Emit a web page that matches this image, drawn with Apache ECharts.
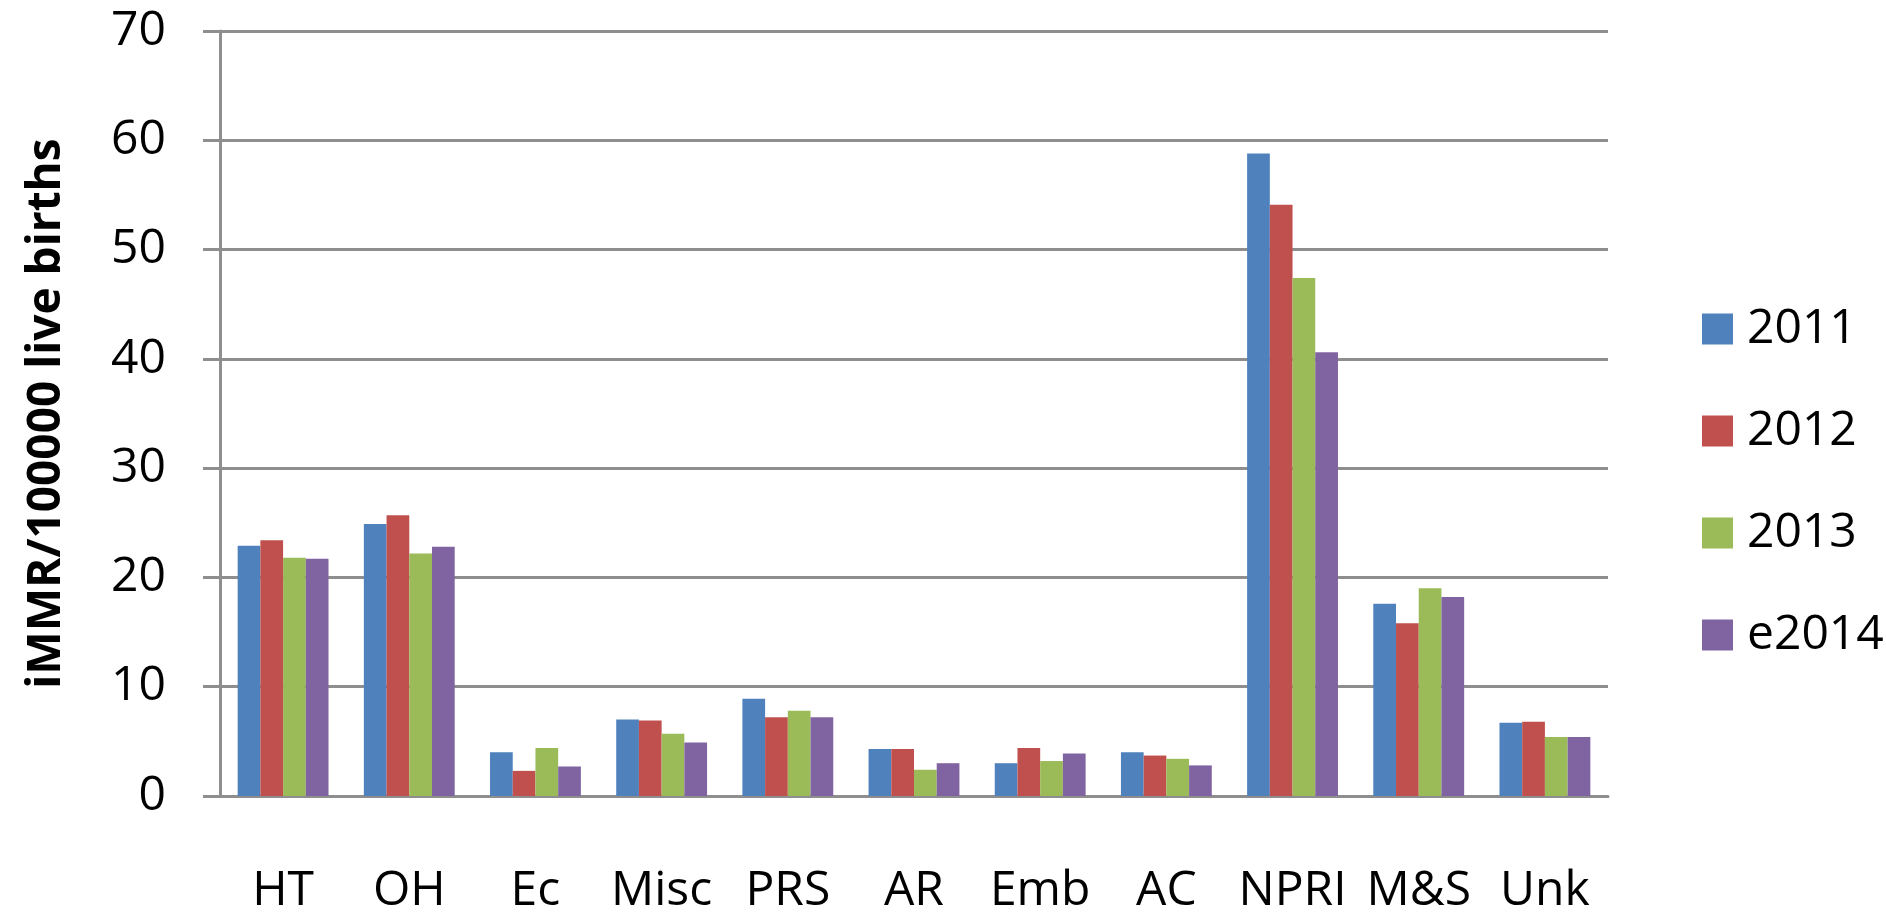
<!DOCTYPE html>
<html>
<head>
<meta charset="utf-8">
<script src="https://cdn.jsdelivr.net/npm/echarts@6/dist/echarts.min.js"></script>
<style>
  html, body { margin: 0; padding: 0; background: #fff; }
  #chart { width: 1886px; height: 915px; }
</style>
</head>
<body>
<div id="chart"></div>
<script>
// Causes of maternal death, rate per 100000 live births
const categories = ['HT', 'OH', 'Ec', 'Misc', 'PRS', 'AR', 'Emb', 'AC', 'NPRI', 'M&S', 'Unk'];
const seriesNames = ['2011', '2012', '2013', 'e2014'];
const values2011 = [22.9, 24.9, 4.0, 7.0, 8.9, 4.3, 3.0, 4.0, 58.8, 17.6, 6.7];
const values2012 = [23.4, 25.7, 2.3, 6.9, 7.2, 4.3, 4.4, 3.7, 54.1, 15.8, 6.8];
const values2013 = [21.8, 22.2, 4.4, 5.7, 7.8, 2.4, 3.2, 3.4, 47.4, 19.0, 5.4];
const valuesE2014 = [21.7, 22.8, 2.7, 4.9, 7.2, 3.0, 3.9, 2.8, 40.6, 18.2, 5.4];
const yTicks = [0, 10, 20, 30, 40, 50, 60, 70];

const colors = ['#4F81BD', '#C0504D', '#9BBB59', '#8064A2'];
const allValues = [values2011, values2012, values2013, valuesE2014];
const font = '"Open Sans", "DejaVu Sans", sans-serif';
const gridColor = '#8e8e8e';

const chart = echarts.init(document.getElementById('chart'), null, { renderer: 'canvas' });

chart.setOption({
  animation: false,
  color: colors,
  grid: { left: 220, right: 278, top: 31, bottom: 113, containLabel: false },
  legend: {
    orient: 'vertical',
    left: 1697,
    top: 300,
    itemWidth: 31,
    itemHeight: 31,
    itemGap: 54,
    icon: 'rect',
    textStyle: { fontFamily: font, fontSize: 48, color: '#000', padding: [14, 0, 0, 9] },
    data: seriesNames
  },
  xAxis: {
    type: 'category',
    data: categories,
    axisLine: { show: true, lineStyle: { color: gridColor, width: 3 } },
    axisTick: { show: false },
    axisLabel: { fontFamily: font, fontSize: 48, color: '#000', margin: 71, interval: 0 }
  },
  yAxis: {
    type: 'value',
    min: yTicks[0],
    max: yTicks[yTicks.length - 1],
    interval: 10,
    name: 'iMMR/100000 live births',
    nameLocation: 'middle',
    nameGap: 150,
    nameRotate: 90,
    nameTextStyle: { fontFamily: font, fontSize: 46, fontWeight: 'bold', color: '#000' },
    axisLine: { show: true, lineStyle: { color: gridColor, width: 3 } },
    axisTick: { show: true, inside: false, length: 17, lineStyle: { color: gridColor, width: 3 } },
    axisLabel: { fontFamily: font, fontSize: 48, color: '#000', margin: 54, padding: [20, 0, 0, 0] },
    splitLine: { show: true, lineStyle: { color: gridColor, width: 3 } }
  },
  series: seriesNames.map((name, i) => ({
    name: name,
    type: 'bar',
    data: allValues[i],
    barGap: '0%',
    barCategoryGap: '28%',
    itemStyle: { color: colors[i] }
  }))
});
</script>
</body>
</html>
